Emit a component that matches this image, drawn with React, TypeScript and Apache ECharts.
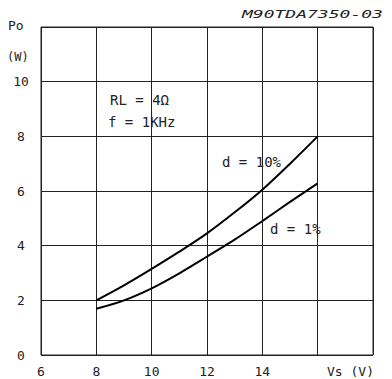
import React, { useEffect, useRef } from "react";
import * as echarts from "echarts";

// Supply voltage Vs (V)
const vsValues = [8, 9, 10, 11, 12, 13, 14, 15, 16];
// Output power Po (W) at d = 10 % and d = 1 % distortion
const po10 = [2.0, 2.55, 3.15, 3.78, 4.45, 5.22, 6.05, 7.0, 8.0];
const po1 = [1.69, 2.0, 2.44, 2.99, 3.6, 4.22, 4.9, 5.6, 6.28];

const FONT = "'DejaVu Sans Mono', monospace";
const INK = "#222";

export default function App() {
  const ref = useRef<HTMLDivElement>(null);

  useEffect(() => {
    if (!ref.current) return;
    const chart = echarts.init(ref.current, null, { renderer: "svg" });

    const curve = (vals: number[]) => vsValues.map((v, i) => [v, vals[i]]);

    const text = (
      x: number,
      y: number,
      s: string,
      size: number,
      extra: Record<string, unknown> = {}
    ) => ({
      type: "text",
      x,
      y,
      style: {
        text: s,
        fontFamily: FONT,
        fontSize: size,
        fill: INK,
        textVerticalAlign: "middle",
        ...extra,
      },
    });

    chart.setOption({
      animation: false,
      backgroundColor: "#fff",
      grid: { left: 41, right: 19, top: 27, bottom: 24 },
      xAxis: {
        type: "value",
        min: 6,
        max: 18,
        interval: 2,
        axisLine: { show: false },
        axisTick: { show: false },
        splitLine: { lineStyle: { color: INK, width: 1 } },
        axisLabel: {
          margin: 10,
          fontFamily: FONT,
          fontSize: 13,
          color: INK,
          formatter: (v: number) => (v >= 16 ? "" : String(v)),
        },
      },
      yAxis: {
        type: "value",
        min: 0,
        max: 12,
        interval: 2,
        axisLine: { show: false },
        axisTick: { show: false },
        splitLine: { lineStyle: { color: INK, width: 1 } },
        axisLabel: {
          margin: 20,
          align: "center",
          fontFamily: FONT,
          fontSize: 13,
          color: INK,
          formatter: (v: number) => (v === 12 ? "" : String(v)),
        },
      },
      series: [
        {
          name: "d = 10%",
          type: "line",
          data: curve(po10),
          smooth: 0.3,
          showSymbol: false,
          lineStyle: { color: "#000", width: 2 },
        },
        {
          name: "d = 1%",
          type: "line",
          data: curve(po1),
          smooth: 0.3,
          showSymbol: false,
          lineStyle: { color: "#000", width: 2 },
        },
      ],
      graphic: [
        // plot frame
        {
          type: "rect",
          shape: { x: 41, y: 27, width: 332, height: 328 },
          style: { fill: "none", stroke: INK, lineWidth: 1 },
        },
        text(8, 25, "Po", 13),
        text(7, 57, "(W)", 12),
        text(327, 371, "Vs (V)", 13),
        text(110, 100, "RL = 4Ω", 14),
        text(108, 122, "f = 1KHz", 14),
        text(222, 162, "d = 10%", 14),
        text(270, 229, "d = 1%", 14),
        {
          type: "text",
          x: 242,
          y: 14,
          scaleX: 1,
          scaleY: 0.62,
          style: {
            text: "M90TDA7350-03",
            fontFamily: FONT,
            fontSize: 18,
            fontStyle: "italic",
            fill: INK,
            textVerticalAlign: "middle",
          },
        },
      ],
    });

    return () => chart.dispose();
  }, []);

  return (
    <div
      ref={ref}
      style={{ position: "fixed", left: 0, top: 0, width: 392, height: 379 }}
    />
  );
}
